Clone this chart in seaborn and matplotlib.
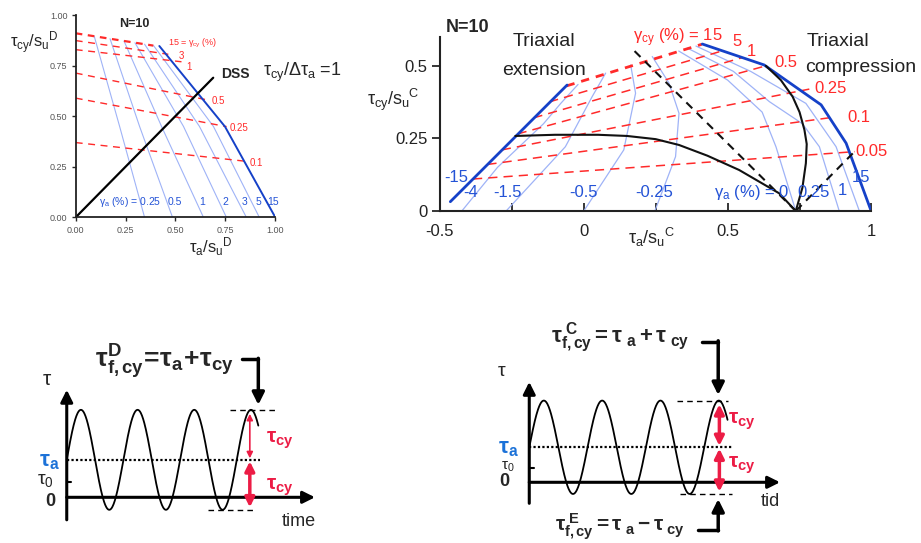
import numpy as np
import matplotlib
matplotlib.use("Agg")
import matplotlib.pyplot as plt
import seaborn as sns

# ---------------- DSS contour diagram (top left) ----------------
dss_ga_labels = ["0.25", "0.5", "1", "2", "3", "5"]
dss_ga_x = [[0.093, 0.22, 0.345], [0.172, 0.32, 0.485], [0.242, 0.43, 0.64],
            [0.297, 0.54, 0.755], [0.345, 0.62, 0.855], [0.39, 0.69, 0.92]]
dss_ga_y = [[0.896, 0.45, 0.0], [0.884, 0.45, 0.0], [0.873, 0.45, 0.0],
            [0.864, 0.45, 0.0], [0.857, 0.45, 0.0], [0.85, 0.45, 0.0]]
dss_fail_x = [0.419, 0.748, 1.0]
dss_fail_y = [0.848, 0.449, 0.0]
dss_gcy_labels = ["15", "3", "1", "0.5", "0.25", "0.1"]
dss_gcy_x = [[0.0, 0.389], [0.0, 0.464], [0.0, 0.53], [0.0, 0.665], [0.0, 0.756], [0.0, 0.865]]
dss_gcy_y = [[0.911, 0.85], [0.875, 0.807], [0.83, 0.77], [0.714, 0.58], [0.59, 0.449], [0.37, 0.276]]
dss_line_x = [0.0, 0.689]
dss_line_y = [0.0, 0.691]
dss_gcy_text_x = [0.461, 0.515, 0.553, 0.68, 0.773, 0.873]
dss_gcy_text_y = [0.862, 0.797, 0.746, 0.578, 0.444, 0.267]
dss_ga_text = ["$\\gamma_a$ (%) = 0.25", "0.5", "1", "2", "3", "5", "15"]
dss_ga_text_x = [0.118, 0.497, 0.631, 0.751, 0.845, 0.917, 0.987]

# ---------------- Triaxial contour diagram (top right) ----------------
tx_ga_labels = ["-4", "-1.5", "-0.5", "-0.25", "0", "0.25", "1"]
tx_ga_x = [[-0.424, -0.30, -0.14, -0.08, -0.02],
           [-0.27, -0.064, 0.029, 0.076],
           [0.0, 0.139, 0.18, 0.163],
           [0.247, 0.319, 0.331, 0.296, 0.238],
           [0.737, 0.668, 0.62, 0.50, 0.33],
           [0.888, 0.819, 0.76, 0.645, 0.52, 0.36],
           [0.958, 0.877, 0.772, 0.58, 0.39]]
tx_ga_y = [[0.0, 0.15, 0.30, 0.37, 0.435],
           [0.0, 0.221, 0.393, 0.474],
           [0.0, 0.21, 0.405, 0.502],
           [0.0, 0.187, 0.336, 0.44, 0.531],
           [0.0, 0.221, 0.34, 0.45, 0.55],
           [0.0, 0.221, 0.30, 0.376, 0.48, 0.56],
           [0.0, 0.221, 0.37, 0.48, 0.567]]
tx_ext_x = [-0.464, -0.058]
tx_ext_y = [0.032, 0.433]
tx_comp_x = [0.412, 0.627, 0.825, 0.912, 0.999]
tx_comp_y = [0.574, 0.502, 0.365, 0.233, 0.0]
tx_gcy_labels = ["15", "5", "1", "0.5", "0.25", "0.1", "0.05"]
tx_gcy_x = [[-0.06, 0.41], [-0.12, 0.48], [-0.175, 0.55], [-0.23, 0.633],
            [-0.285, 0.784], [-0.335, 0.865], [-0.385, 0.941]]
tx_gcy_y = [[0.43, 0.573], [0.375, 0.55], [0.32, 0.527], [0.265, 0.499],
            [0.21, 0.419], [0.16, 0.322], [0.11, 0.204]]
tx_gcy_text = ["$\\gamma_{cy}$ (%) = 15", "5", "1", "0.5", "0.25", "0.1", "0.05"]
tx_gcy_text_x = [0.17, 0.516, 0.568, 0.662, 0.80, 0.916, 0.944]
tx_gcy_text_y = [0.595, 0.581, 0.547, 0.509, 0.42, 0.32, 0.203]
tx_ga_text = ["-15", "-4", "-1.5", "-0.5", "-0.25", "$\\gamma_a$ (%) = 0", "0.25", "1", "15"]
tx_ga_text_x = [-0.442, -0.394, -0.265, 0.0, 0.244, 0.585, 0.80, 0.899, 0.965]
tx_ga_text_y = [0.114, 0.062, 0.062, 0.062, 0.062, 0.062, 0.062, 0.072, 0.114]
tx_curve_h_x = [-0.238, -0.1, 0.05, 0.15, 0.25, 0.331, 0.43, 0.54, 0.62, 0.679, 0.737]
tx_curve_h_y = [0.258, 0.262, 0.262, 0.258, 0.247, 0.227, 0.19, 0.141, 0.095, 0.061, 0.0]
tx_curve_v_x = [0.737, 0.76, 0.772, 0.775, 0.767, 0.75, 0.726, 0.685, 0.633]
tx_curve_v_y = [0.0, 0.08, 0.164, 0.23, 0.279, 0.34, 0.393, 0.45, 0.499]
tx_dash_x = [0.737, 0.166]
tx_dash_y = [0.0, 0.56]
tx_dash2_x = [0.737, 0.935]
tx_dash2_y = [0.0, 0.198]

# ---------------- loading sketches (bottom) ----------------
tau_cy = 1.0
tau_a = 0.75
tau_0 = 0.3
peak_times = [0.25, 1.25, 2.25, 3.25]
sine_end_left = 3.38
sine_end_right = 3.4

red_line = "#ff2a2a"
light_blue = "#9fb3f7"
dark_blue = "#1541c8"
blue_text = "#2453d6"
arrow_red = "#ec1c45"
tau_a_blue = "#1c72d8"

sns.set_theme(style="ticks")
plt.rcParams["font.family"] = ["Liberation Sans", "DejaVu Sans"]
plt.rcParams.update({"mathtext.fontset": "custom",
                     "mathtext.rm": "Liberation Sans",
                     "mathtext.it": "Liberation Sans",
                     "mathtext.bf": "Liberation Sans:bold",
                     "axes.unicode_minus": False})

fig = plt.figure(figsize=(9.21, 5.43), dpi=100)


def line(ax, xs, ys, **kw):
    sns.lineplot(x=xs, y=ys, sort=False, estimator=None, ax=ax, **kw)


# ---- DSS panel ----
ax1 = fig.add_axes([0.0822, 0.5998, 0.2167, 0.372])
for xs, ys in zip(dss_ga_x, dss_ga_y):
    line(ax1, xs, ys, color=light_blue, lw=0.8)
for i, (xs, ys) in enumerate(zip(dss_gcy_x, dss_gcy_y)):
    lw = 1.6 if i == 0 else 1.0
    line(ax1, xs, ys, color=red_line, lw=lw, linestyle=(0, (5, 4)) if i else (0, (3, 2.5)))
line(ax1, dss_fail_x, dss_fail_y, color=dark_blue, lw=1.4)
line(ax1, dss_line_x, dss_line_y, color="black", lw=1.6)
for i, (tx, ty) in enumerate(zip(dss_gcy_text_x, dss_gcy_text_y)):
    txt = "15 = $\\gamma_{cy}$ (%)" if i == 0 else dss_gcy_labels[i]
    ax1.text(tx, ty, txt, color=red_line, fontsize=6.5 if i == 0 else 7, ha="left", va="center")
for txt, tx in zip(dss_ga_text, dss_ga_text_x):
    ax1.text(tx, 0.078, txt, color=blue_text, fontsize=7.5,
             ha="left" if txt.startswith("$") else "center", va="center")
ax1.text(0.292, 0.957, "N=10", fontsize=9, fontweight="bold", ha="center", va="center")
ax1.text(0.731, 0.71, "DSS", fontsize=10, fontweight="bold", ha="left", va="center")
ax1.set_xlim(0, 1)
ax1.set_ylim(0, 1)
ticks = [0, 0.25, 0.5, 0.75, 1.0]
ax1.set_xticks(ticks)
ax1.set_yticks(ticks)
ax1.set_xticklabels([f"{t:.2f}" for t in ticks])
ax1.set_yticklabels([f"{t:.2f}" for t in ticks])
ax1.tick_params(labelsize=6.5, labelcolor="#555555", length=3, width=1, pad=3)
sns.despine(ax=ax1)
for s in ["left", "bottom"]:
    ax1.spines[s].set_color("#222222")
    ax1.spines[s].set_linewidth(1.3)
ax1.set_xlabel("")
ax1.set_ylabel("")
fig.text(0.011, 0.921, "$\\tau_{cy}/s_u{}^{D}$", fontsize=12, ha="left", va="center")
fig.text(0.229, 0.545, "$\\tau_{a}/s_u{}^{D}$", fontsize=12, ha="center", va="center")
fig.text(0.286, 0.866, "$\\tau_{cy}/\\Delta\\tau_{a}$ =1", fontsize=13, ha="left", va="center")

# ---- Triaxial panel ----
ax2 = fig.add_axes([0.4777, 0.6114, 0.4685, 0.3204])
for xs, ys in zip(tx_ga_x, tx_ga_y):
    line(ax2, xs, ys, color=light_blue, lw=0.9)
for i, (xs, ys) in enumerate(zip(tx_gcy_x, tx_gcy_y)):
    if i == 0:
        line(ax2, xs, ys, color=red_line, lw=2.0, linestyle=(0, (3, 2.5)))
    else:
        line(ax2, xs, ys, color=red_line, lw=1.1, linestyle=(0, (6, 4)))
line(ax2, tx_ext_x, tx_ext_y, color=dark_blue, lw=2.0)
line(ax2, tx_comp_x, tx_comp_y, color=dark_blue, lw=2.0)
line(ax2, tx_curve_h_x, tx_curve_h_y, color="#111111", lw=1.5)
line(ax2, tx_curve_v_x, tx_curve_v_y, color="#111111", lw=1.5)
line(ax2, tx_dash_x, tx_dash_y, color="#111111", lw=1.5, linestyle=(0, (4, 3)))
line(ax2, tx_dash2_x, tx_dash2_y, color="#111111", lw=1.5, linestyle=(0, (4, 3)))
for txt, tx, ty in zip(tx_gcy_text, tx_gcy_text_x, tx_gcy_text_y):
    ax2.text(tx, ty, txt, color=red_line, fontsize=12, ha="left", va="center")
for txt, tx, ty in zip(tx_ga_text, tx_ga_text_x, tx_ga_text_y):
    ax2.text(tx, ty, txt, color=blue_text, fontsize=12, ha="center", va="center")
ax2.text(-0.14, 0.581, "Triaxial", fontsize=14, color="#222222", ha="center", va="center")
ax2.text(-0.14, 0.482, "extension", fontsize=14, color="#222222", ha="center", va="center")
ax2.text(0.773, 0.581, "Triaxial", fontsize=14, color="#222222", ha="left", va="center")
ax2.text(0.768, 0.492, "compression", fontsize=14, color="#222222", ha="left", va="center")
ax2.set_xlim(-0.5, 1.0)
ax2.set_ylim(0, 0.598)
ax2.set_xticks([-0.5, 0, 0.5, 1])
ax2.set_xticklabels(["-0.5", "0", "0.5", "1"])
ax2.set_xticks([-0.25, 0.25, 0.75], minor=True)
ax2.set_yticks([0, 0.25, 0.5])
ax2.set_yticklabels(["0", "0.25", "0.5"])
ax2.tick_params(axis="x", which="both", direction="in", length=6, width=1.3, pad=9,
                labelsize=12, labelcolor="#222222")
ax2.tick_params(axis="y", direction="out", length=6, width=1.3, pad=3,
                labelsize=12, labelcolor="#222222")
sns.despine(ax=ax2)
for s in ["left", "bottom"]:
    ax2.spines[s].set_color("#222222")
    ax2.spines[s].set_linewidth(1.5)
ax2.set_xlabel("")
ax2.set_ylabel("")
fig.text(0.484, 0.95, "N=10", fontsize=13, fontweight="bold", ha="left", va="center")
fig.text(0.398, 0.816, "$\\tau_{cy}/s_u{}^{C}$", fontsize=13, ha="left", va="center")
fig.text(0.707, 0.562, "$\\tau_{a}/s_u{}^{C}$", fontsize=13, ha="center", va="center")


# ---- loading sketches ----
def sketch(ax, t_end, x_end, dot_end, top_dash, bot_dash, arrow_t, thin_upper):
    t = np.linspace(0, t_end, 500)
    tau = tau_a + tau_cy * np.sin(2 * np.pi * t)
    ax.set_xlim(-0.5, 4.5)
    ax.axis("off")
    head = dict(color="black", lw=2.2, mutation_scale=18, shrinkA=0, shrinkB=0)
    ax.annotate("", xy=(0, 2.15), xytext=(0, -0.45), arrowprops=dict(arrowstyle="-|>", **head))
    ax.annotate("", xy=(x_end, 0), xytext=(0, 0), arrowprops=dict(arrowstyle="-|>", **head))
    line(ax, t, tau, color="black", lw=1.3)
    ax.plot([0, dot_end], [tau_a, tau_a], color="black", lw=1.6, linestyle=(0, (1, 1)))
    ax.plot([0, 0.08], [tau_0, tau_0], color="black", lw=1.5)
    ax.plot(top_dash, [tau_a + tau_cy] * 2, color="black", lw=1, linestyle=(0, (4, 3)))
    ax.plot(bot_dash, [tau_a - tau_cy] * 2, color="black", lw=1, linestyle=(0, (4, 3)))
    up = dict(arrowstyle="<|-|>", color=arrow_red, shrinkA=0, shrinkB=0)
    if thin_upper:
        up.update(lw=1.2, mutation_scale=9)
    else:
        up.update(lw=2.5, mutation_scale=14)
    ax.annotate("", xy=(arrow_t, tau_a + tau_cy - 0.08), xytext=(arrow_t, tau_a + 0.03),
                arrowprops=up)
    ax.annotate("", xy=(arrow_t, tau_a - tau_cy + 0.05), xytext=(arrow_t, tau_a - 0.03),
                arrowprops=dict(arrowstyle="<|-|>", color=arrow_red, lw=2.5,
                                mutation_scale=14, shrinkA=0, shrinkB=0))


ax3 = fig.add_axes([0.0417, 0.0289, 0.3077, 0.3683])
ax3.set_ylim(-0.6, 3.4)
sketch(ax3, sine_end_left, 4.38, 3.41, [2.88, 3.7], [2.49, 3.32], peak_times[3] - 0.02, True)
ax3.text(3.76, 1.15, "$\\mathbf{\\tau_{cy}}$", color=arrow_red, fontsize=15, ha="center", va="center")
ax3.text(3.76, 0.21, "$\\mathbf{\\tau_{cy}}$", color=arrow_red, fontsize=15, ha="center", va="center")
ax3.text(-0.35, 2.35, "$\\tau$", fontsize=15, ha="center", va="center")
ax3.text(-0.3, 0.72, "$\\mathbf{\\tau_{a}}$", color=tau_a_blue, fontsize=16, ha="center", va="center")
ax3.text(-0.37, 0.33, "$\\tau_{0}$", fontsize=14, ha="center", va="center")
ax3.text(-0.29, -0.09, "0", fontsize=13, fontweight="bold", ha="center", va="center")
ax3.text(4.1, -0.49, "time", fontsize=13, ha="center", va="center")
ax3.text(1.72, 2.71, "$\\mathbf{\\tau^{D}_{f,cy}\\!=\\!\\tau_{a}\\!+\\!\\tau_{cy}}$",
         fontsize=19, ha="center", va="center")
ax3.plot([3.1, 3.38], [2.76, 2.76], color="black", lw=2.5)
ax3.annotate("", xy=(3.38, 1.85), xytext=(3.38, 2.78),
             arrowprops=dict(arrowstyle="-|>", color="black", lw=2.5, mutation_scale=18,
                             shrinkA=0, shrinkB=0))

ax4 = fig.add_axes([0.543, 0.0, 0.3166, 0.4042])
ax4.set_ylim(-1.3, 3.4)
sketch(ax4, sine_end_right, 4.3, 3.5, [2.53, 3.41], [2.59, 3.47], peak_times[3] + 0.01, False)
ax4.text(3.64, 1.3, "$\\mathbf{\\tau_{cy}}$", color=arrow_red, fontsize=15, ha="center", va="center")
ax4.text(3.64, 0.37, "$\\mathbf{\\tau_{cy}}$", color=arrow_red, fontsize=15, ha="center", va="center")
ax4.text(-0.47, 2.37, "$\\tau$", fontsize=14, ha="center", va="center")
ax4.text(-0.35, 0.72, "$\\mathbf{\\tau_{a}}$", color=tau_a_blue, fontsize=16, ha="center", va="center")
ax4.text(-0.37, 0.33, "$\\tau_{0}$", fontsize=11, ha="center", va="center")
ax4.text(-0.42, 0.01, "0", fontsize=13, fontweight="bold", ha="center", va="center")
ax4.text(4.13, -0.41, "tid", fontsize=13, ha="center", va="center")
ax4.text(1.56, 3.09, "$\\mathbf{\\tau^{\\ C}_{f,cy} = \\tau_{\\ a} + \\tau_{\\ cy}}$",
         fontsize=16, ha="center", va="center")
ax4.text(1.56, -0.95, "$\\mathbf{\\tau^{\\ E}_{f,cy} = \\tau_{\\ a} - \\tau_{\\ cy}}$",
         fontsize=15, ha="center", va="center")
ax4.plot([2.9, 3.24], [-1.02, -1.02], color="black", lw=2.5)
ax4.annotate("", xy=(3.24, -0.36), xytext=(3.24, -1.04),
             arrowprops=dict(arrowstyle="-|>", color="black", lw=2.5, mutation_scale=18,
                             shrinkA=0, shrinkB=0))
ax4.plot([2.96, 3.24], [3.01, 3.01], color="black", lw=2.5)
ax4.annotate("", xy=(3.24, 1.87), xytext=(3.24, 3.03),
             arrowprops=dict(arrowstyle="-|>", color="black", lw=2.5, mutation_scale=18,
                             shrinkA=0, shrinkB=0))

fig.savefig("out.png", dpi=100, facecolor="white")
